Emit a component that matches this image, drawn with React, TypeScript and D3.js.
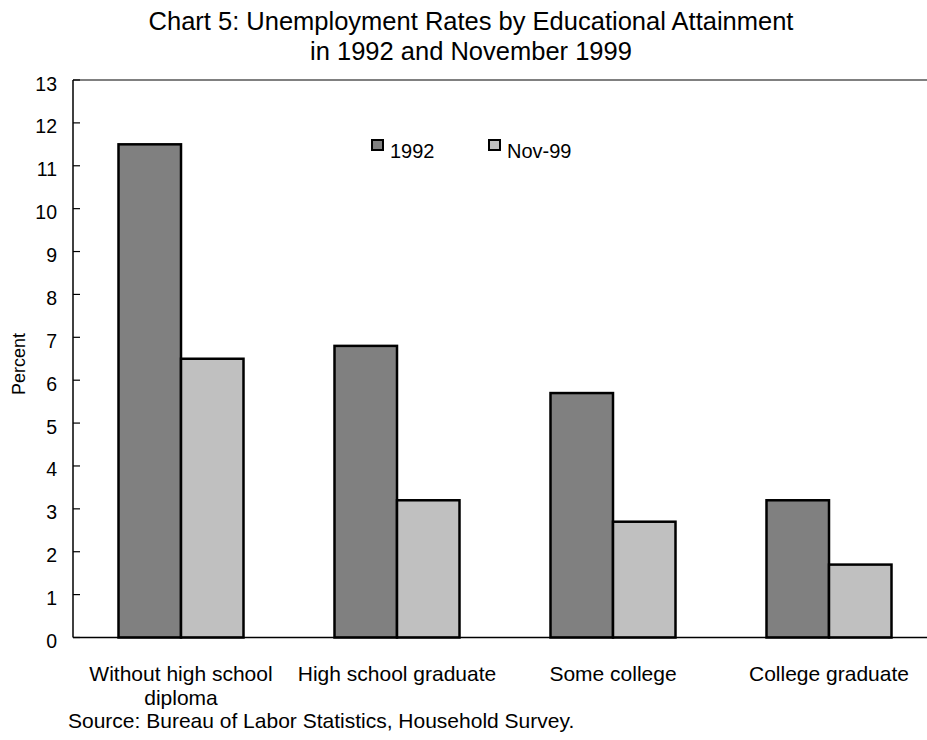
import React from "react";
import * as d3 from "d3";

const categories = ["Without high school|diploma", "High school graduate", "Some college", "College graduate"];
const seriesNames = ["1992", "Nov-99"];
const values1992 = [11.5, 6.8, 5.7, 3.2];
const valuesNov99 = [6.5, 3.2, 2.7, 1.7];
const yTicks = [0, 1, 2, 3, 4, 5, 6, 7, 8, 9, 10, 11, 12, 13];
const colors = ["#808080", "#c0c0c0"];

export default function App() {
  const W = 927, H = 740;
  const left = 73, right = 937, top = 80, bottom = 637.5;
  const font = "'Liberation Sans', Arial, sans-serif";
  const x = d3.scaleBand().domain(categories).range([left, right]).paddingInner(0).paddingOuter(0);
  const y = d3.scaleLinear().domain([0, 13]).range([bottom, top]);
  const barW = 62.5;
  const series = [values1992, valuesNov99];

  return (
    <svg width={W} height={H} style={{ position: "absolute", left: 0, top: 0, background: "#fff" }} fontFamily={font}>
      <rect x={0} y={0} width={W} height={H} fill="#fff" />
      <text x={471} y={30} textAnchor="middle" fontSize={25.5} fill="#000">Chart 5: Unemployment Rates by Educational Attainment</text>
      <text x={471} y={60} textAnchor="middle" fontSize={25.5} fill="#000">in 1992 and November 1999</text>

      {/* top border */}
      <line x1={left} x2={right} y1={top} y2={top} stroke="#808080" strokeWidth={2} />

      {/* bars */}
      {categories.map((c, i) => {
        const cx = (x(c) as number) + x.bandwidth() / 2;
        return series.map((s, j) => (
          <rect key={c + j} x={cx - barW + j * barW} y={y(s[i])} width={barW} height={bottom - y(s[i])}
            fill={colors[j]} stroke="#000" strokeWidth={2.5} />
        ));
      })}

      {/* axes */}
      <line x1={left} x2={left} y1={top} y2={bottom} stroke="#000" strokeWidth={1.5} />
      <line x1={left} x2={right} y1={bottom} y2={bottom} stroke="#000" strokeWidth={1.3} />
      {yTicks.map(t => (
        <g key={t}>
          <line x1={left} x2={left + 7} y1={y(t)} y2={y(t)} stroke="#000" strokeWidth={1.2} />
          <text x={57} y={y(t) + 10.5} textAnchor="end" fontSize={19.5} fill="#000">{t}</text>
        </g>
      ))}
      <text transform={`translate(25,395) rotate(-90)`} textAnchor="start" fontSize={18} fill="#000">Percent</text>

      {/* x labels */}
      {categories.map(c => {
        const cx = (x(c) as number) + x.bandwidth() / 2;
        const lines = c.split("|");
        return lines.map((l, k) => (
          <text key={c + k} x={cx} y={681 + k * 24} textAnchor="middle" fontSize={21} fill="#000">{l}</text>
        ));
      })}

      {/* legend */}
      {seriesNames.map((n, j) => {
        const lx = [372, 489][j];
        return (
          <g key={n}>
            <rect x={lx} y={140} width={11} height={10} fill={colors[j]} stroke="#000" strokeWidth={2} />
            <text x={lx + 18} y={158} fontSize={20} fill="#000">{n}</text>
          </g>
        );
      })}

      <text x={68} y={728} fontSize={21} fill="#000">Source: Bureau of Labor Statistics, Household Survey.</text>
    </svg>
  );
}
